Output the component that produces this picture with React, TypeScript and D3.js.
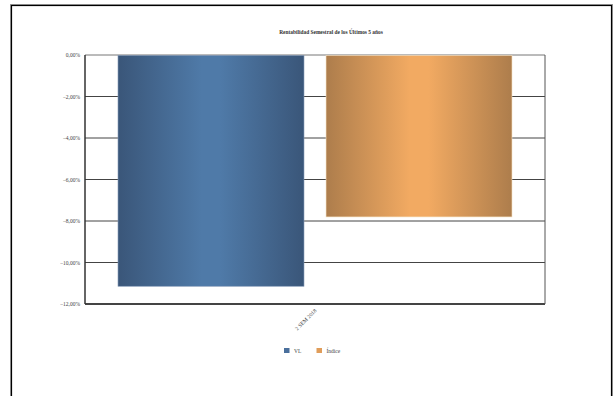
import React from "react";
import * as d3 from "d3";

const categories: string[] = ["2 SEM 2018"];
const seriesNames: string[] = ["VL", "Índice"];
const vlValues: number[] = [-11.12];
const indiceValues: number[] = [-7.78];
const yTicks: number[] = [0, -2, -4, -6, -8, -10, -12];

const W = 615;
const H = 396;
const plot = { left: 85, top: 55, right: 545, bottom: 304 };

const serif = "'Liberation Serif', 'Times New Roman', serif";

const fmt = (v: number) =>
  (v === 0 ? "0,00" : d3.format(".2f")(v).replace(".", ",")) + "%";

const palettes = [
  { edge: "#3a5679", mid: "#4f7aa8", key: "#4a6f9c" },
  { edge: "#ad7d4c", mid: "#f2aa62", key: "#e09d5a" },
];

export default function App() {
  const x0 = d3
    .scaleBand<string>()
    .domain(categories)
    .range([plot.left, plot.right])
    .paddingOuter(0.0838)
    .paddingInner(0);
  const x1 = d3
    .scaleBand<string>()
    .domain(seriesNames)
    .range([0, x0.bandwidth()])
    .paddingInner(0.106)
    .paddingOuter(0);
  const y = d3.scaleLinear().domain([0, -12]).range([plot.top, plot.bottom]);

  const series = [vlValues, indiceValues];

  return (
    <div style={{ position: "fixed", left: 0, top: 0 }}>
      <svg width={W} height={H} style={{ display: "block" }}>
        <defs>
          {palettes.map((p, i) => (
            <linearGradient key={i} id={`cyl${i}`} x1="0" x2="1" y1="0" y2="0">
              <stop offset="0%" stopColor={p.edge} />
              <stop offset="45%" stopColor={p.mid} />
              <stop offset="55%" stopColor={p.mid} />
              <stop offset="100%" stopColor={p.edge} />
            </linearGradient>
          ))}
        </defs>
        <rect x={0} y={0} width={W} height={H} fill="#fff" />
        {/* outer frame */}
        <rect x={10.5} y={4.5} width={602} height={400} fill="none" stroke="#999" strokeWidth={1} />
        <rect x={11.5} y={5.5} width={600} height={400} fill="none" stroke="#000" strokeWidth={1.2} />

        <text
          x={331}
          y={34}
          textAnchor="middle"
          fontFamily={serif}
          fontSize={5.4}
          fontWeight="bold"
          fill="#333"
        >
          Rentabilidad Semestral de los Últimos 5 años
        </text>

        {/* gridlines */}
        {yTicks.map((t) => (
          <g key={t}>
            <line
              x1={plot.left}
              x2={plot.right}
              y1={y(t)}
              y2={y(t)}
              stroke={t === 0 ? "#777" : "#444"}
              strokeWidth={t === -12 ? 2 : 1}
            />
            <text
              x={plot.left - 5}
              y={y(t) + 2}
              textAnchor="end"
              fontFamily={serif}
              fontSize={5.5}
              fill="#444"
            >
              {fmt(t)}
            </text>
          </g>
        ))}
        <line x1={plot.left} x2={plot.left} y1={plot.top} y2={plot.bottom} stroke="#333" strokeWidth={1.5} />
        <line x1={plot.right} x2={plot.right} y1={plot.top} y2={plot.bottom} stroke="#555" strokeWidth={1} />

        {/* bars */}
        {categories.map((c, ci) =>
          series.map((vals, si) => {
            const bx = (x0(c) ?? 0) + (x1(seriesNames[si]) ?? 0);
            const v = vals[ci];
            return (
              <rect
                key={`${c}-${si}`}
                x={bx}
                y={y(0) + 0.5}
                width={x1.bandwidth()}
                height={y(v) - y(0)}
                fill={`url(#cyl${si})`}
                stroke={si === 0 ? "#7f95b3" : "#f5e0c0"}
                strokeWidth={0.6}
              />
            );
          })
        )}

        {/* category labels */}
        {categories.map((c) => {
          const cx = (x0(c) ?? 0) + x0.bandwidth() / 2 + 2;
          return (
            <text
              key={c}
              transform={`translate(${cx},${plot.bottom + 7}) rotate(-45)`}
              textAnchor="end"
              fontFamily={serif}
              fontSize={5.5}
              fill="#444"
            >
              {c}
            </text>
          );
        })}

        {/* legend */}
        {seriesNames.map((n, i) => {
          const lx = i === 0 ? 284 : 316.5;
          return (
            <g key={n}>
              <rect x={lx} y={348} width={5.5} height={5} fill={palettes[i].key} />
              <text x={lx + 10} y={352.5} fontFamily={serif} fontSize={5.5} fill="#444">
                {n}
              </text>
            </g>
          );
        })}
      </svg>
    </div>
  );
}
